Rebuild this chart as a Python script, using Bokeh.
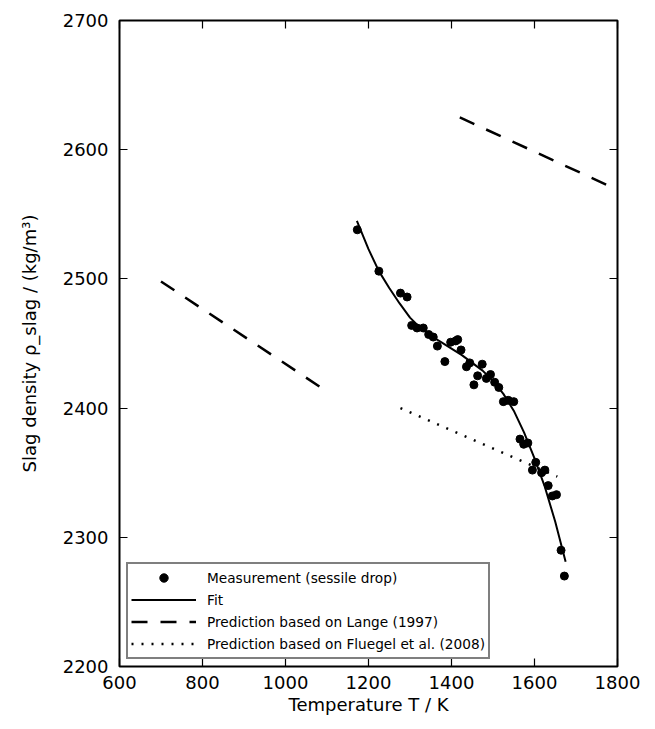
from bokeh.plotting import figure
from bokeh.models import (Legend, LegendItem, LinearAxis, FixedTicker,
                          CustomJSTickFormatter)
from bokeh.embed import file_html
from bokeh.resources import INLINE

# ---------------- data ----------------
meas_T = [1173, 1225, 1277, 1293, 1304, 1317, 1332, 1345, 1356, 1366,
          1384, 1398, 1410, 1415, 1423, 1436, 1444, 1454, 1463, 1474,
          1484, 1494, 1504, 1514, 1525, 1537, 1550, 1565, 1574, 1584,
          1595, 1603, 1617, 1625, 1633, 1643, 1653, 1664, 1672]
meas_rho = [2538, 2506, 2489, 2486, 2464, 2462, 2462, 2457, 2455, 2448,
            2436, 2451, 2452, 2453, 2445, 2432, 2435, 2418, 2425, 2434,
            2423, 2426, 2420, 2416, 2405, 2406, 2405, 2376, 2372, 2373,
            2352, 2358, 2350, 2352, 2340, 2332, 2333, 2290, 2270]

fit_T = [1172, 1200, 1225, 1250, 1275, 1300, 1325, 1350, 1375, 1400, 1425,
         1450, 1475, 1500, 1525, 1550, 1575, 1600, 1625, 1650, 1675]
fit_rho = [2545, 2523, 2506, 2493, 2481, 2470, 2462, 2456, 2451, 2446, 2441,
           2435, 2429, 2421, 2411, 2398, 2381, 2361, 2339, 2312, 2281]

lange_low_T = [700, 1090]
lange_low_rho = [2498, 2415]
lange_high_T = [1420, 1800]
lange_high_rho = [2625, 2569]

fluegel_T = [1277, 1655]
fluegel_rho = [2400, 2347]

x_ticks = [600, 800, 1000, 1200, 1400, 1600, 1800]
y_ticks = [2200, 2300, 2400, 2500, 2600, 2700]

x_title = "Temperature T / K"
y_title = "Slag density ρ_slag / (kg/m³)"

legend_labels = ["Measurement (sessile drop)", "Fit",
                 "Prediction based on Lange (1997)",
                 "Prediction based on Fluegel et al. (2008)"]

# ---------------- figure ----------------
FONT = "DejaVu Sans"

p = figure(frame_width=498, frame_height=646, x_range=(600, 1800),
           y_range=(2200, 2700), output_backend="svg", toolbar_location=None,
           min_border_left=119, min_border_top=20, min_border_right=38,
           min_border_bottom=63, x_axis_location=None, y_axis_location=None)
p.xgrid.visible = False
p.ygrid.visible = False
p.outline_line_color = "black"
p.outline_line_width = 2
p.background_fill_color = "white"
p.border_fill_color = "white"

empty = CustomJSTickFormatter(code="return ''")


def style_axis(ax, ticks, show_labels, standoff):
    ax.ticker = FixedTicker(ticks=ticks)
    ax.axis_line_color = None
    ax.major_tick_in = 8
    ax.major_tick_out = 0
    ax.major_tick_line_color = "black"
    ax.major_tick_line_width = 1.2
    ax.minor_tick_line_color = None
    ax.major_label_text_font = FONT
    ax.major_label_text_color = "black"
    ax.axis_label_text_font = FONT
    ax.axis_label_text_font_style = "normal"
    ax.axis_label_text_font_size = "18px"
    ax.axis_label_text_color = "black"
    if show_labels:
        ax.major_label_text_font_size = "18px"
        ax.major_label_standoff = standoff
    else:
        ax.formatter = empty
        ax.major_label_text_font_size = "0px"
        ax.major_label_standoff = 0


bx = LinearAxis(axis_label=x_title, axis_label_standoff=2)
style_axis(bx, x_ticks, True, 9)
p.add_layout(bx, "below")
tx = LinearAxis()
style_axis(tx, x_ticks, False, 0)
p.add_layout(tx, "above")
ly = LinearAxis(axis_label=y_title, axis_label_standoff=20)
style_axis(ly, y_ticks, True, 11)
p.add_layout(ly, "left")
ry = LinearAxis()
style_axis(ry, y_ticks, False, 0)
p.add_layout(ry, "right")

# ---------------- glyphs ----------------
r_meas = p.scatter(meas_T, meas_rho, size=8, color="black")
r_fit = p.line(fit_T, fit_rho, line_color="black", line_width=2)
r_lange = p.line(lange_low_T, lange_low_rho, line_color="black",
                 line_width=2.5, line_dash="16 13")
p.line(lange_high_T, lange_high_rho, line_color="black",
       line_width=2.5, line_dash="16 13")
r_flu = p.line(fluegel_T, fluegel_rho, line_color="black",
               line_width=2.5, line_dash="2 8")

legend = Legend(items=[LegendItem(label=legend_labels[0], renderers=[r_meas]),
                       LegendItem(label=legend_labels[1], renderers=[r_fit]),
                       LegendItem(label=legend_labels[2], renderers=[r_lange]),
                       LegendItem(label=legend_labels[3], renderers=[r_flu])],
                location="bottom_left", margin=7, padding=3, spacing=1,
                glyph_width=65, glyph_height=21, label_height=21,
                label_standoff=11, label_text_font=FONT,
                label_text_font_size="13.7px", label_text_color="black",
                border_line_color="black", border_line_width=2,
                background_fill_color="white", background_fill_alpha=1)
p.add_layout(legend, "center")

open("out.html", "w").write(file_html(p, INLINE))
